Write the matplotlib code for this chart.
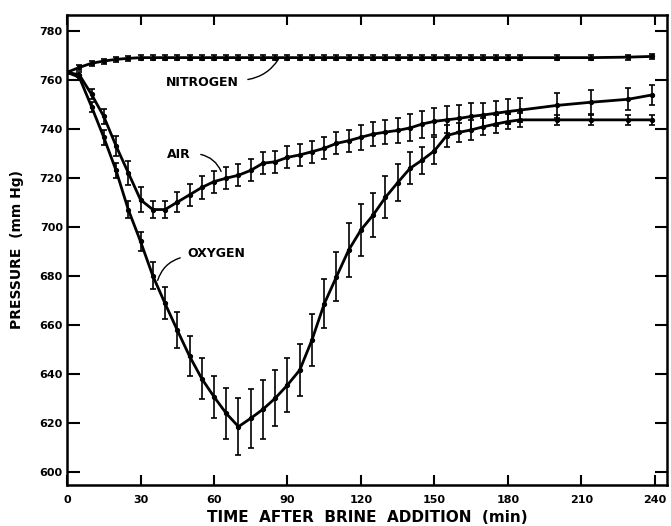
import matplotlib
matplotlib.use('Agg')
import matplotlib.pyplot as plt

# ==================================================
#   Data
t = [0, 5, 10, 15, 20, 25, 30, 35, 40, 45, 50, 55, 60, 65, 70, 75, 80, 85, 90, 95,
     100, 105, 110, 115, 120, 125, 130, 135, 140, 145, 150, 155, 160, 165, 170, 175,
     180, 185, 200, 214, 229, 239]

nitrogen = [763, 765, 766.7, 767.6, 768.3, 768.7, 769, 769, 769, 769, 769, 769, 769, 769,
            769, 769, 769, 769, 769, 769, 769, 769, 769, 769, 769, 769, 769, 769, 769, 769,
            769, 769, 769, 769, 769, 769, 769, 769, 769, 769, 769.2, 769.5]
nitrogen_err = [0] + [1] * 41

air = [763, 762, 754, 745, 733, 722, 711, 707, 707, 710, 713, 716, 718.4, 719.8, 721, 723,
       725.9, 726.5, 728.3, 729.3, 730.6, 732, 734, 735.1, 736.5, 737.8, 738.6, 739.3,
       740.3, 741.9, 743, 743.6, 744.2, 745, 745.6, 746.3, 747, 747.6, 749.5, 750.8, 752,
       753.8]
air_err = [0, 1, 2, 3, 4, 5, 5, 3.5, 3.5, 4, 4.5, 4.5, 4.5, 4.5, 4.5, 4.5, 4.5, 4.5, 4.5,
           4.5, 4.5, 4.5, 4.5, 4.5, 5, 5, 5, 5, 5.5, 5.5, 5.5, 5.5, 5.5, 5.5, 5, 5, 5, 5,
           5, 5, 4.5, 4]

oxygen = [763, 761, 749, 736.5, 723, 707, 694, 680, 668.7, 657.8, 647.2, 638, 630.6, 623.8,
          618.4, 621.8, 625.5, 630, 635.4, 641.5, 653.8, 668.5, 679.6, 690.5, 698.7, 704.8,
          712, 718, 723.8, 727.2, 731, 737.2, 738.5, 739.5, 740.8, 741.9, 742.9, 743.6,
          743.6, 743.6, 743.6, 743.6]
oxygen_err = [0, 1, 2, 3, 3, 3.5, 4, 5.5, 6.5, 7.5, 8, 8.5, 8.5, 10.5, 11.5, 12, 12, 11.5,
              11, 10.5, 10.5, 10, 10, 11, 10.5, 9, 8.5, 7.5, 6.5, 5.5, 5.5, 4.5, 4, 4, 3.5,
              3.5, 3, 3, 2, 2, 2, 2]

xticks = [0, 30, 60, 90, 120, 150, 180, 210, 240]
yticks = [600, 620, 640, 660, 680, 700, 720, 740, 760, 780]

# ==================================================
plt.rcParams['font.family'] = 'DejaVu Sans'
plt.rcParams['font.weight'] = 'bold'

fig = plt.figure(figsize=(6.71, 5.26), dpi=100)
ax = fig.add_axes([0.0999, 0.078, 0.894, 0.8935])

for y, e in [(nitrogen, nitrogen_err), (air, air_err), (oxygen, oxygen_err)]:
    ax.errorbar(t, y, yerr=e, fmt='-o', color='black', lw=2.0, ms=2.8,
                elinewidth=1.2, capsize=2.5, capthick=1.2)

ax.set_xlim(0, 244.9)
ax.set_ylim(594.6, 786.4)
ax.set_xticks(xticks)
ax.set_yticks(yticks)
ax.tick_params(direction='in', top=True, right=True, width=1.5, labelsize=8)
ax.tick_params(axis='y', length=9, pad=3)
ax.tick_params(axis='x', length=7, pad=7)
for s in ax.spines.values():
    s.set_linewidth(1.8)

ax.set_xlabel('TIME  AFTER  BRINE  ADDITION  (min)', fontsize=11, fontweight='bold',
              labelpad=4)
ax.set_ylabel('PRESSURE  (mm Hg)', fontsize=10, fontweight='bold', labelpad=11)

#   curve labels
ax.text(55.3, 759, 'NITROGEN', ha='center', va='center', fontsize=9, fontweight='bold')
ax.annotate('', xy=(86.9, 769.3), xytext=(72.7, 759.9),
            arrowprops=dict(arrowstyle='-', lw=1, connectionstyle='arc3,rad=0.25'))
ax.text(45.7, 729.3, 'AIR', ha='center', va='center', fontsize=9, fontweight='bold')
ax.annotate('', xy=(63.3, 721.5), xytext=(53.5, 729.7),
            arrowprops=dict(arrowstyle='-', lw=1, connectionstyle='arc3,rad=-0.3'))
ax.text(61, 688.9, 'OXYGEN', ha='center', va='center', fontsize=9, fontweight='bold')
ax.annotate('', xy=(36.7, 677), xytext=(47.3, 687.6),
            arrowprops=dict(arrowstyle='-', lw=1, connectionstyle='arc3,rad=0.3'))

plt.savefig('out.png', dpi=100)
